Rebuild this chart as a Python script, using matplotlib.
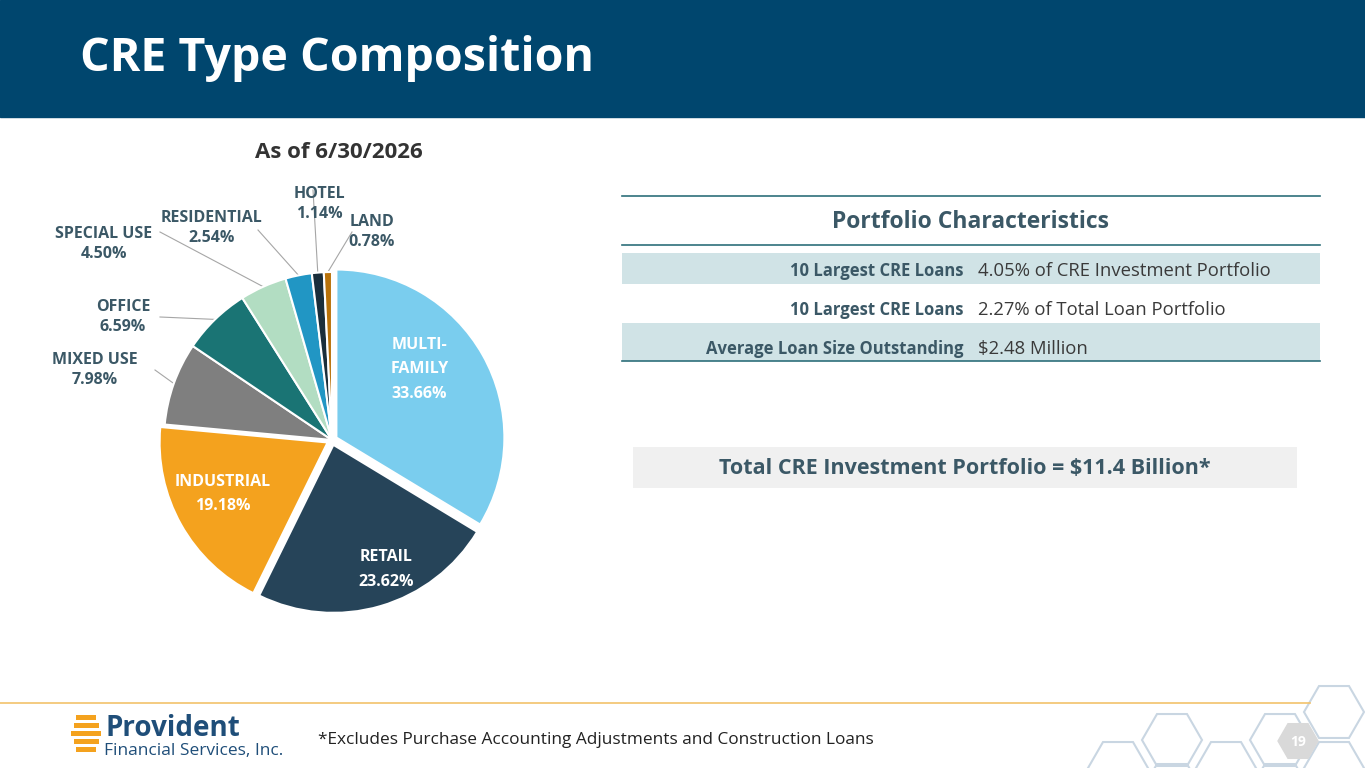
import matplotlib
matplotlib.use("Agg")
import matplotlib.pyplot as plt
import numpy as np
from matplotlib.patches import Rectangle, RegularPolygon

plt.rcParams['font.family'] = ['Open Sans', 'DejaVu Sans']

categories = ["MULTI-\nFAMILY", "RETAIL", "INDUSTRIAL", "MIXED USE", "OFFICE",
              "SPECIAL USE", "RESIDENTIAL", "HOTEL", "LAND"]
values = [33.66, 23.62, 19.18, 7.98, 6.59, 4.50, 2.54, 1.14, 0.78]
colors = ["#7ACDEE", "#264459", "#F4A21E", "#7F7F7F", "#1A7474",
          "#B2DDC2", "#2196C4", "#1A2E3B", "#B8720A"]
explode = [0.03, 0.03, 0.03, 0, 0, 0, 0, 0, 0]

row_labels = ["10 Largest CRE Loans", "10 Largest CRE Loans", "Average Loan Size Outstanding"]
row_values = ["4.05% of CRE Investment Portfolio", "2.27% of Total Loan Portfolio", "$2.48 Million"]

W, H = 1365, 768
fig = plt.figure(figsize=(13.65, 7.68), dpi=100)
bg = fig.add_axes([0, 0, 1, 1])
bg.set_xlim(0, W); bg.set_ylim(H, 0); bg.axis('off')

# header
bg.add_patch(Rectangle((0, 0), W, 117, color="#00466E"))
bg.text(80, 58, "CRE Type Composition", color="white", fontsize=33.5, fontweight='bold', va='center')
bg.text(339, 153, "As of 6/30/2026", color="#333333", fontsize=16, fontweight='bold', ha='center', va='center')

# table
dark = "#3B5866"
bg.add_patch(Rectangle((622, 253), 698, 31, color="#D0E3E6", lw=0))
bg.add_patch(Rectangle((622, 323), 698, 38, color="#D0E3E6", lw=0))
bg.plot([622, 1320], [196, 196], color="#2E6F7A", lw=1.2)
bg.text(971, 222, "Portfolio Characteristics", color=dark, fontsize=16.5, fontweight='bold', ha='center', va='center')
bg.plot([622, 1320], [245, 245], color="#2E6F7A", lw=1.2)
ys = [271, 310, 349]
for i, (l, v) in enumerate(zip(row_labels, row_values)):
    bg.text(963, ys[i], l, color=dark, fontsize=12, fontweight='bold', ha='right', va='center')
    bg.text(978, ys[i], v, color="#3A3A3A", fontsize=13.3, ha='left', va='center')
bg.plot([622, 1320], [361, 361], color="#2E6F7A", lw=1.2)

bg.add_patch(Rectangle((633, 447), 664, 41, color="#F0F0F0", lw=0))
bg.text(965, 468, "Total CRE Investment Portfolio = $11.4 Billion*", color=dark, fontsize=15.5,
        fontweight='bold', ha='center', va='center')

# footer
bg.plot([0, 1310], [703, 703], color="#F2C26B", lw=1.2)
bg.text(318, 740, "*Excludes Purchase Accounting Adjustments and Construction Loans", color="#222222",
        fontsize=12.4, va='center')
bg.text(105, 728, "Provident", color="#1F4E79", fontsize=20, fontweight='bold', va='center')
bg.text(104, 751, "Financial Services, Inc.", color="#1F4E79", fontsize=12.5, va='center')
for k, yy in enumerate([718, 726, 734, 742, 750]):
    w = 30 - abs(k - 2) * 5
    bg.add_patch(Rectangle((86 - w / 2, yy - 3), w, 5, color="#F4A21E", lw=0))
hexes = [(1118, 768), (1172, 740), (1172, 790), (1226, 768), (1280, 740), (1334, 712), (1334, 768), (1280, 790)]
for (hx, hy) in hexes:
    bg.add_patch(RegularPolygon((hx, hy), 6, radius=30, orientation=np.pi / 6, fill=False,
                                ec="#C9D6E2", lw=1.5))
bg.add_patch(RegularPolygon((1298, 741), 6, radius=20, orientation=np.pi / 6, color="#D9D9D9"))
bg.text(1298, 742, "19", color="white", fontsize=10, fontweight='bold', ha='center', va='center')

# pie
cx, cy, r = 332, 440, 168
s = 400
ax = fig.add_axes([(cx - s / 2) / W, 1 - (cy + s / 2) / H, s / W, s / H])
wedges, _ = ax.pie(values, colors=colors, explode=explode, startangle=90, counterclock=False,
                   radius=1, wedgeprops=dict(edgecolor='white', linewidth=1.5))
ax.set_xlim(-s / 2 / r, s / 2 / r); ax.set_ylim(-s / 2 / r, s / 2 / r); ax.axis('off')

inner = {0: (0.52, 0.42), 1: (0.32, -0.77), 2: (-0.65, -0.32)}
for i, (xx, yy) in inner.items():
    ax.text(xx, yy, f"{categories[i]}\n{values[i]:.2f}%", color="white", fontsize=11.5, fontweight='bold',
            ha='center', va='center', linespacing=1.7)

outer_pos = {3: (95, 370), 4: (123, 317), 5: (104, 244), 6: (212, 228), 7: (319, 204), 8: (372, 232)}
ends = {3: (155, 370), 4: (160, 317), 5: (160, 232), 6: (258, 230), 7: (313, 190), 8: (352, 232)}
for i, (px, py) in outer_pos.items():
    bg.text(px, py, f"{categories[i]}\n{values[i]:.2f}%", color=dark, fontsize=11.5, fontweight='bold',
            ha='center', va='center', linespacing=1.4)
    w = wedges[i]
    ang = np.deg2rad((w.theta1 + w.theta2) / 2)
    ex, ey = cx + r * np.cos(ang), cy - r * np.sin(ang)
    lx, ly = ends[i]
    bg.plot([ex, lx], [ey, ly], color="#A6A6A6", lw=0.8, zorder=0)

fig.savefig("out.png", dpi=100)
